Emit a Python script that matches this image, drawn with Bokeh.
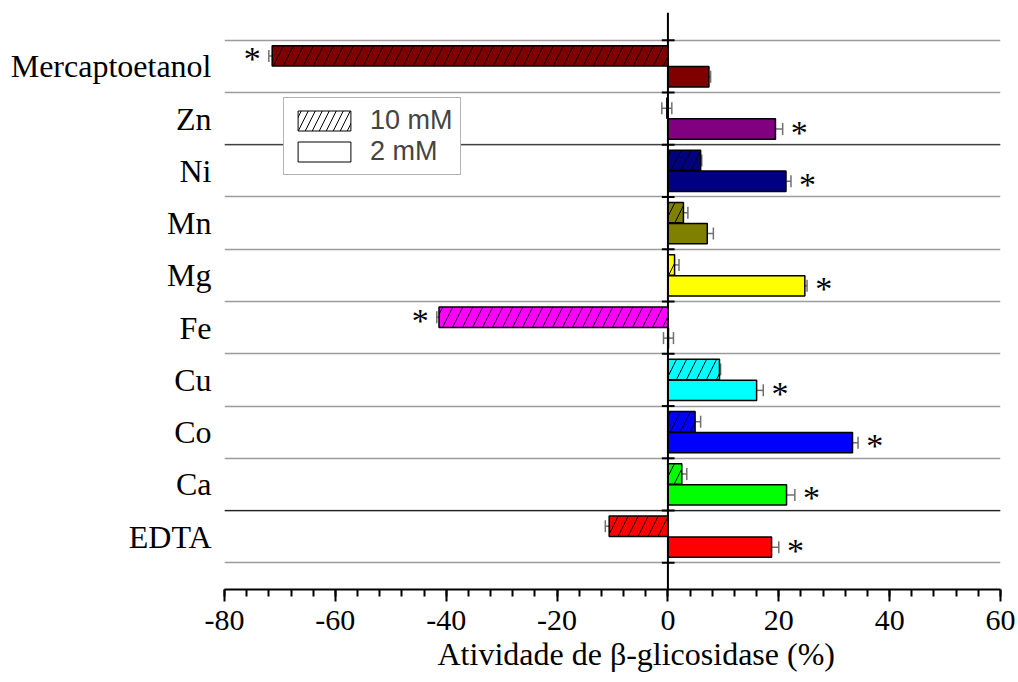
import numpy as np
from bokeh.plotting import figure
from bokeh.models import (Range1d, FixedTicker, Span, Whisker, ColumnDataSource,
                          Legend, LegendItem, TeeHead, Title)
from bokeh.core.properties import value
from bokeh.embed import file_html
from bokeh.resources import INLINE

# ---------------- data ----------------
categories = ["EDTA", "Ca", "Co", "Cu", "Fe", "Mg", "Mn", "Ni", "Zn", "Mercaptoetanol"]
colors = ["#FF0000", "#00FF00", "#0000FF", "#00FFFF", "#FF00FF",
          "#FFFF00", "#808000", "#000080", "#800080", "#800000"]
act_10mM = [-10.6, 2.5, 4.9, 9.3, -41.3, 1.2, 2.8, 5.9, -0.2, -71.4]
err_10mM = [0.7, 0.9, 1.0, 0.2, 0.4, 0.8, 0.8, 0.2, 0.9, 0.6]
act_2mM = [18.7, 21.4, 33.3, 16.0, 0.1, 24.7, 7.1, 21.3, 19.4, 7.4]
err_2mM = [1.3, 1.5, 1.0, 1.2, 0.9, 0.4, 1.1, 0.9, 1.3, 0.3]
sig_10mM = [False, False, False, False, True, False, False, False, False, True]
sig_2mM = [True, True, True, True, False, True, False, True, True, False]
x_ticks = [-80, -60, -40, -20, 0, 20, 40, 60]
x_tick_labels = ["-80", "-60", "-40", "-20", "0", "20", "40", "60"]
x_minor = list(range(-80, 61, 4))
series_labels = ["10 mM", "2 mM"]
x_title = "Atividade de β-glicosidase (%)"

n = len(categories)
idx = np.arange(n)
boundaries = list(np.arange(n + 1) - 0.5)

SERIF = "Liberation Serif"
SANS = "Liberation Sans"

p = figure(width=1018, height=682, output_backend="svg", toolbar_location=None,
           x_range=Range1d(-80, 60), y_range=Range1d(-1.01, 10.03),
           min_border_left=224, min_border_right=18, min_border_top=12,
           min_border_bottom=93)
p.outline_line_color = None
p.background_fill_color = "white"
p.border_fill_color = "white"

# grid lines between categories
p.xgrid.visible = False
p.ygrid.ticker = FixedTicker(ticks=boundaries)
p.ygrid.grid_line_color = "#9c9c9c"
p.ygrid.grid_line_width = 1.5
dark = [boundaries[1], boundaries[8]]
p.segment(x0=-80, x1=60, y0=dark, y1=dark, line_color="#222222", line_width=1.2)


def make_src(vals, errs, off):
    vals = np.array(vals)
    errs = np.array(errs)
    return ColumnDataSource(dict(y=idx + off, right=vals, color=colors,
                                 lower=vals - errs, upper=vals + errs))


src10 = make_src(act_10mM, err_10mM, 0.2)
src2 = make_src(act_2mM, err_2mM, -0.2)

p.hbar(y="y", left=0, right="right", height=0.39, source=src10, fill_color="color",
       line_color="black", line_width=1.5, hatch_pattern="/", hatch_color="black",
       hatch_scale=20, hatch_weight=1)
p.hbar(y="y", left=0, right="right", height=0.39, source=src2, fill_color="color",
       line_color="black", line_width=1.5)

for src in (src10, src2):
    w = Whisker(source=src, base="y", lower="lower", upper="upper", dimension="width",
                line_color="#707070", line_width=1.5,
                upper_head=TeeHead(size=12, line_color="#707070", line_width=1.5),
                lower_head=TeeHead(size=12, line_color="#707070", line_width=1.5))
    p.add_layout(w)

# asterisks
ax, ay = [], []
for i in range(n):
    for vals, errs, sig, off in ((act_10mM, err_10mM, sig_10mM, 0.2),
                                 (act_2mM, err_2mM, sig_2mM, -0.2)):
        if sig[i]:
            s = 1 if vals[i] >= 0 else -1
            ax.append(vals[i] + s * (errs[i] + 3.0))
            ay.append(i + off)
p.text(x=ax, y=ay, text=["*"] * len(ax), text_font=value(SERIF), text_font_size="34px",
       text_align="center", text_baseline="middle", y_offset=3, text_color="black")

# zero axis
p.add_layout(Span(location=0, dimension="height", line_color="black", line_width=2))
p.segment(x0=-1.1, x1=1.2, y0=boundaries, y1=boundaries, line_color="black", line_width=2)

# x axis
xa = p.xaxis[0]
xa.ticker = FixedTicker(ticks=x_ticks, minor_ticks=x_minor)
xa.major_label_overrides = {t: l for t, l in zip(x_ticks, x_tick_labels)}
xa.axis_line_width = 2
xa.axis_line_color = "black"
xa.major_tick_line_width = 2
xa.minor_tick_line_width = 2
xa.major_tick_out = 12
xa.major_tick_in = 0
xa.minor_tick_out = 7
xa.minor_tick_in = 0
xa.major_label_text_font = SERIF
xa.major_label_text_font_size = "30px"
xa.major_label_text_color = "black"
xa.major_label_standoff = 9

p.add_layout(Title(text=x_title, align="left", offset=213, text_font=SERIF,
                   text_font_size="32px", text_font_style="normal", text_color="black",
                   standoff=2), "below")

# y axis (category labels)
ya = p.yaxis[0]
ya.ticker = FixedTicker(ticks=list(idx))
ya.major_label_overrides = {int(i): c for i, c in zip(idx, categories)}
ya.axis_line_color = None
ya.major_tick_line_color = None
ya.minor_tick_line_color = None
ya.major_label_text_font = SERIF
ya.major_label_text_font_size = "32px"
ya.major_label_text_color = "black"
ya.major_label_standoff = 7

# legend (sample glyphs only; their single point lies outside the visible range)
r_l10 = p.hbar(y=[-100], right=[1], height=0.4, fill_color="white", line_color="black",
               line_width=1, hatch_pattern="/", hatch_color="black", hatch_scale=14,
               hatch_weight=1)
r_l2 = p.hbar(y=[-100], right=[1], height=0.4, fill_color="white", line_color="black",
              line_width=1)
legend = Legend(items=[LegendItem(label=series_labels[0], renderers=[r_l10]),
                       LegendItem(label=series_labels[1], renderers=[r_l2])],
                location=(59, 414), glyph_width=66, glyph_height=25, label_height=25,
                label_text_font=SANS, label_text_font_size="27px", label_standoff=13,
                padding=7, spacing=0, margin=0, border_line_color="#666666",
                border_line_width=1.5, background_fill_color="white",
                background_fill_alpha=1.0)
p.add_layout(legend)

open("out.html", "w").write(file_html(p, INLINE))
